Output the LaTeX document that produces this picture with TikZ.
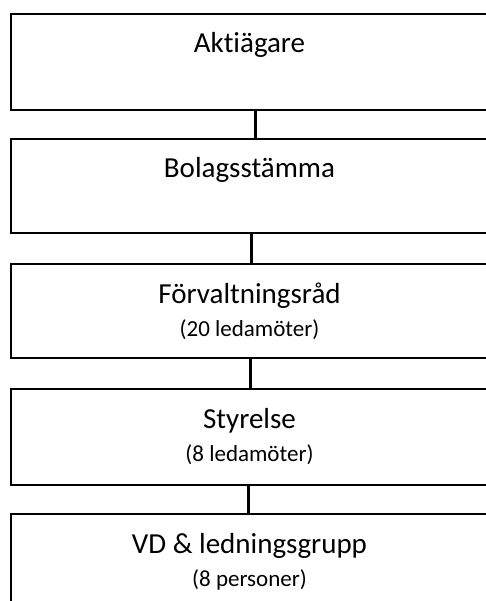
\documentclass[tikz,border=0pt]{standalone}
\usepackage{fontspec}
\setmainfont[Ligatures=NoCommon]{Carlito}
\begin{document}
\begin{tikzpicture}[x=1pt,y=-1pt,
  orgbox/.style={draw=black, line width=2pt, rectangle, inner sep=0pt,
                 anchor=north west, minimum width=477pt},
  title/.style={font=\fontsize{29}{34}\selectfont, anchor=base, inner sep=0pt},
  sub/.style={font=\fontsize{23}{28}\selectfont, anchor=base, inner sep=0pt},
  link/.style={draw=black, line width=3pt}]
\useasboundingbox (0,0) rectangle (486,601);
\clip (0,0) rectangle (486,601);

% governance levels, top to bottom
\node[orgbox, minimum height=96pt]  (owners) at (10,13)  {};
\node[orgbox, minimum height=94pt]  (agm)    at (10,138) {};
\node[orgbox, minimum height=94pt]  (council) at (10,263) {};
\node[orgbox, minimum height=96pt]  (board)  at (10,388) {};
\node[orgbox, minimum height=120pt] (mgmt)   at (10,513) {};

% labels
\node[title] (ownersT)  at ([yshift=-40pt]owners.north)  {Aktiägare};
\node[title] (agmT)     at ([yshift=-40pt]agm.north)     {Bolagsstämma};
\node[title] (councilT) at ([yshift=-40pt]council.north) {Förvaltningsråd};
\node[sub]   (councilS) at ([yshift=-73pt]council.north) {(20 ledamöter)};
\node[title] (boardT)   at ([yshift=-40pt]board.north)   {Styrelse};
\node[sub]   (boardS)   at ([yshift=-73pt]board.north)   {(8 ledamöter)};
\node[title] (mgmtT)    at ([yshift=-40pt]mgmt.north)    {VD \& ledningsgrupp};
\node[sub]   (mgmtS)    at ([yshift=-73pt]mgmt.north)    {(8 personer)};

% connectors between levels
\draw[link] ([xshift=5.5pt]owners.south)  -- ([xshift=5.5pt]agm.north);
\draw[link] ([xshift=1.5pt]agm.south)     -- ([xshift=1.5pt]council.north);
\draw[link] ([xshift=0.5pt]council.south) -- ([xshift=0.5pt]board.north);
\draw[link] ([xshift=-1.5pt]board.south)  -- ([xshift=-1.5pt]mgmt.north);
\end{tikzpicture}
\end{document}
